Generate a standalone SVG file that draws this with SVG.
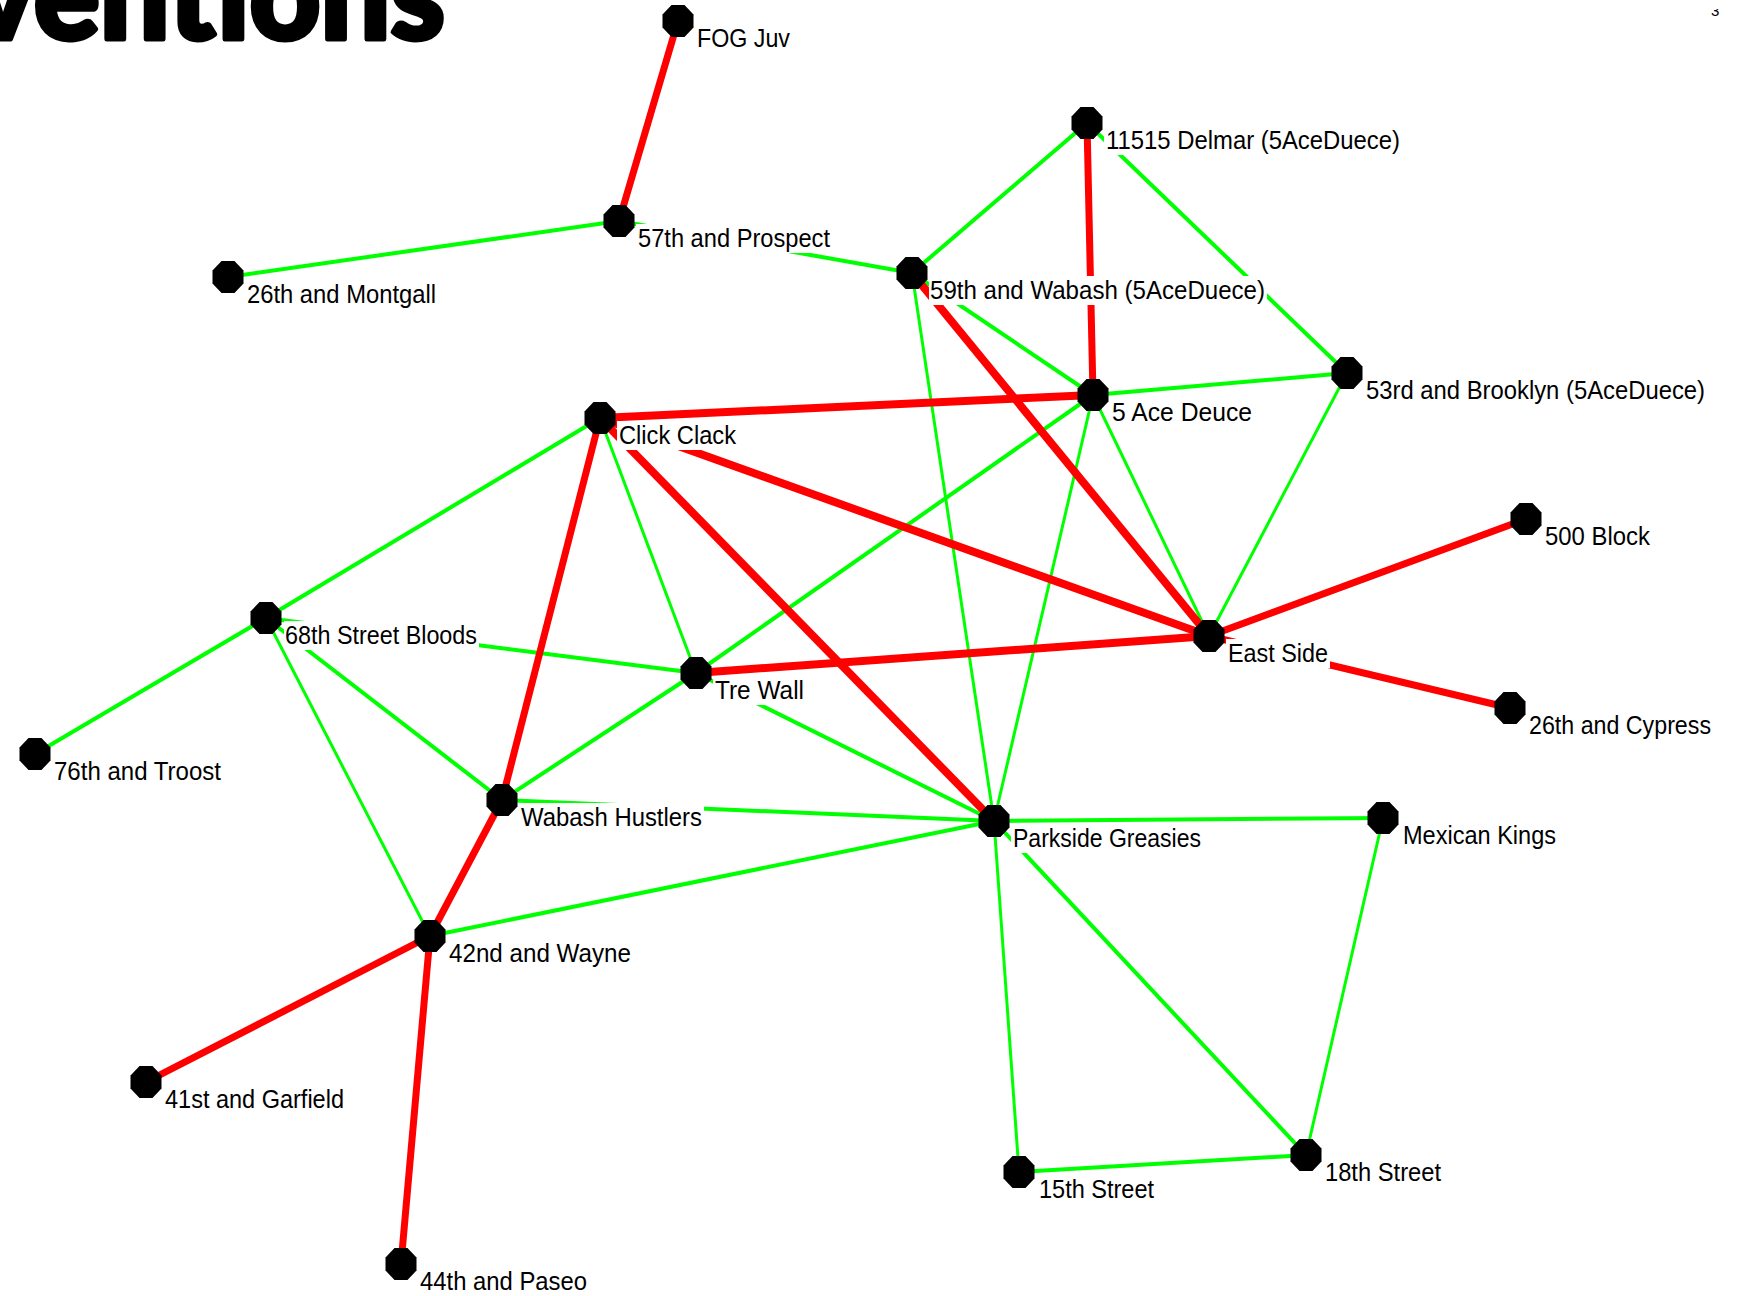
<svg xmlns="http://www.w3.org/2000/svg" xmlns:xlink="http://www.w3.org/1999/xlink" width="1739" height="1296" viewBox="0 0 1739 1296">
<style>
.g{stroke:#00ff00;stroke-width:4;fill:none}
.gt{stroke:#00ff00;stroke-width:3;fill:none}
.r{stroke:#ff0000;stroke-width:7;fill:none}
.rb{stroke:#ff0000;stroke-width:8;fill:none}
.bx{fill:#ffffff}
.t{font-family:"Liberation Sans",Arial,sans-serif;font-size:25px;fill:#000000}
.title{font-family:Lato,"Liberation Sans",sans-serif;font-weight:900;font-size:126px;fill:#000000;stroke:#000000;stroke-width:5;stroke-linejoin:round}
</style>
<defs>
<polygon id="oct" points="-6.5,-16 6.5,-16 15.5,-6.5 15.5,6.5 6.5,16 -6.5,16 -15.5,6.5 -15.5,-6.5" fill="#000000"/>
<clipPath id="numclip"><rect x="1700" y="9" width="39" height="20"/></clipPath>
</defs>
<rect width="1739" height="1296" fill="#ffffff"/>
<text class="title" x="-30" y="39" textLength="475" lengthAdjust="spacingAndGlyphs">ventions</text>
<text x="1711" y="16" clip-path="url(#numclip)" font-family="Liberation Sans, sans-serif" font-size="15" fill="#000">3</text>
<g id="connectors">
<line class="g" x1="228" y1="277" x2="619" y2="221"/>
<line class="g" x1="619" y1="221" x2="912" y2="273"/>
<line class="g" x1="1087" y1="123" x2="912" y2="273"/>
<line class="g" x1="1087" y1="123" x2="1347" y2="373"/>
<line class="g" x1="912" y1="273" x2="1093" y2="395"/>
<line class="g" x1="1093" y1="395" x2="1347" y2="373"/>
<line class="g" x1="1093" y1="395" x2="696" y2="673"/>
<line class="g" x1="600" y1="418" x2="266" y2="618"/>
<line class="g" x1="266" y1="618" x2="35" y2="754"/>
<line class="g" x1="266" y1="618" x2="696" y2="673"/>
<line class="g" x1="266" y1="618" x2="502" y2="800"/>
<line class="g" x1="696" y1="673" x2="502" y2="800"/>
<line class="g" x1="696" y1="673" x2="994" y2="821"/>
<line class="g" x1="502" y1="800" x2="994" y2="821"/>
<line class="g" x1="430" y1="936" x2="994" y2="821"/>
<line class="g" x1="994" y1="821" x2="1383" y2="818"/>
<line class="g" x1="1019" y1="1172" x2="1306" y2="1155"/>
<line class="g" x1="994" y1="821" x2="1306" y2="1155"/>
<line class="gt" x1="912" y1="273" x2="994" y2="821"/>
<line class="gt" x1="1093" y1="395" x2="1209" y2="636"/>
<line class="gt" x1="1093" y1="395" x2="994" y2="821"/>
<line class="gt" x1="1347" y1="373" x2="1209" y2="636"/>
<line class="gt" x1="600" y1="418" x2="696" y2="673"/>
<line class="gt" x1="266" y1="618" x2="430" y2="936"/>
<line class="gt" x1="994" y1="821" x2="1019" y2="1172"/>
<line class="gt" x1="1383" y1="818" x2="1306" y2="1155"/>
<line class="r" x1="678" y1="21" x2="619" y2="221"/>
<line class="r" x1="1087" y1="123" x2="1093" y2="395"/>
<line class="rb" x1="912" y1="273" x2="1209" y2="636"/>
<line class="rb" x1="600" y1="418" x2="1093" y2="395"/>
<line class="rb" x1="600" y1="418" x2="1209" y2="636"/>
<line class="rb" x1="600" y1="418" x2="994" y2="821"/>
<line class="r" x1="600" y1="418" x2="502" y2="800"/>
<line class="rb" x1="696" y1="673" x2="1209" y2="636"/>
<line class="r" x1="1209" y1="636" x2="1526" y2="519"/>
<line class="r" x1="1209" y1="636" x2="1510" y2="708"/>
<line class="r" x1="502" y1="800" x2="430" y2="936"/>
<line class="r" x1="430" y1="936" x2="146" y2="1082"/>
<line class="r" x1="430" y1="936" x2="401" y2="1264"/>
</g>
<g id="n-fog"><rect class="bx" x="695" y="24" width="97" height="29"/><use xlink:href="#oct" x="678" y="21"/><text class="t" x="697" y="47" textLength="93" lengthAdjust="spacingAndGlyphs">FOG Juv</text></g>
<g id="n-57th"><rect class="bx" x="636" y="224" width="196" height="29"/><use xlink:href="#oct" x="619" y="221"/><text class="t" x="638" y="247" textLength="192" lengthAdjust="spacingAndGlyphs">57th and Prospect</text></g>
<g id="n-26thm"><rect class="bx" x="245" y="280" width="193" height="29"/><use xlink:href="#oct" x="228" y="277"/><text class="t" x="247" y="303" textLength="189" lengthAdjust="spacingAndGlyphs">26th and Montgall</text></g>
<g id="n-11515"><rect class="bx" x="1104" y="126" width="298" height="29"/><use xlink:href="#oct" x="1087" y="123"/><text class="t" x="1106" y="149" textLength="294" lengthAdjust="spacingAndGlyphs">11515 Delmar (5AceDuece)</text></g>
<g id="n-59th"><rect class="bx" x="929" y="276" width="338" height="29"/><use xlink:href="#oct" x="912" y="273"/><text class="t" x="930" y="299" textLength="335" lengthAdjust="spacingAndGlyphs">59th and Wabash (5AceDuece)</text></g>
<g id="n-5ace"><rect class="bx" x="1111" y="398" width="143" height="29"/><use xlink:href="#oct" x="1093" y="395"/><text class="t" x="1112" y="421" textLength="140" lengthAdjust="spacingAndGlyphs">5 Ace Deuce</text></g>
<g id="n-53rd"><rect class="bx" x="1364" y="376" width="343" height="29"/><use xlink:href="#oct" x="1347" y="373"/><text class="t" x="1366" y="399" textLength="339" lengthAdjust="spacingAndGlyphs">53rd and Brooklyn (5AceDuece)</text></g>
<g id="n-click"><rect class="bx" x="617" y="421" width="121" height="29"/><use xlink:href="#oct" x="600" y="418"/><text class="t" x="619" y="444" textLength="117" lengthAdjust="spacingAndGlyphs">Click Clack</text></g>
<g id="n-500"><rect class="bx" x="1543" y="522" width="109" height="29"/><use xlink:href="#oct" x="1526" y="519"/><text class="t" x="1545" y="545" textLength="105" lengthAdjust="spacingAndGlyphs">500 Block</text></g>
<g id="n-68th"><rect class="bx" x="284" y="621" width="195" height="29"/><use xlink:href="#oct" x="266" y="618"/><text class="t" x="285" y="644" textLength="192" lengthAdjust="spacingAndGlyphs">68th Street Bloods</text></g>
<g id="n-east"><rect class="bx" x="1226" y="639" width="104" height="29"/><use xlink:href="#oct" x="1209" y="636"/><text class="t" x="1228" y="662" textLength="100" lengthAdjust="spacingAndGlyphs">East Side</text></g>
<g id="n-tre"><rect class="bx" x="713" y="676" width="93" height="29"/><use xlink:href="#oct" x="696" y="673"/><text class="t" x="715" y="699" textLength="89" lengthAdjust="spacingAndGlyphs">Tre Wall</text></g>
<g id="n-26thc"><rect class="bx" x="1527" y="711" width="186" height="29"/><use xlink:href="#oct" x="1510" y="708"/><text class="t" x="1529" y="734" textLength="182" lengthAdjust="spacingAndGlyphs">26th and Cypress</text></g>
<g id="n-76th"><rect class="bx" x="52" y="757" width="171" height="29"/><use xlink:href="#oct" x="35" y="754"/><text class="t" x="54" y="780" textLength="167" lengthAdjust="spacingAndGlyphs">76th and Troost</text></g>
<g id="n-wabash"><rect class="bx" x="519" y="803" width="185" height="29"/><use xlink:href="#oct" x="502" y="800"/><text class="t" x="521" y="826" textLength="181" lengthAdjust="spacingAndGlyphs">Wabash Hustlers</text></g>
<g id="n-parkside"><rect class="bx" x="1011" y="824" width="192" height="29"/><use xlink:href="#oct" x="994" y="821"/><text class="t" x="1013" y="847" textLength="188" lengthAdjust="spacingAndGlyphs">Parkside Greasies</text></g>
<g id="n-mexican"><rect class="bx" x="1400" y="821" width="158" height="29"/><use xlink:href="#oct" x="1383" y="818"/><text class="t" x="1403" y="844" textLength="153" lengthAdjust="spacingAndGlyphs">Mexican Kings</text></g>
<g id="n-42nd"><rect class="bx" x="447" y="939" width="186" height="29"/><use xlink:href="#oct" x="430" y="936"/><text class="t" x="449" y="962" textLength="182" lengthAdjust="spacingAndGlyphs">42nd and Wayne</text></g>
<g id="n-41st"><rect class="bx" x="163" y="1085" width="183" height="29"/><use xlink:href="#oct" x="146" y="1082"/><text class="t" x="165" y="1108" textLength="179" lengthAdjust="spacingAndGlyphs">41st and Garfield</text></g>
<g id="n-15th"><rect class="bx" x="1036" y="1175" width="120" height="29"/><use xlink:href="#oct" x="1019" y="1172"/><text class="t" x="1039" y="1198" textLength="115" lengthAdjust="spacingAndGlyphs">15th Street</text></g>
<g id="n-18th"><rect class="bx" x="1323" y="1158" width="120" height="29"/><use xlink:href="#oct" x="1306" y="1155"/><text class="t" x="1325" y="1181" textLength="116" lengthAdjust="spacingAndGlyphs">18th Street</text></g>
<g id="n-44th"><rect class="bx" x="418" y="1267" width="171" height="29"/><use xlink:href="#oct" x="401" y="1264"/><text class="t" x="420" y="1290" textLength="167" lengthAdjust="spacingAndGlyphs">44th and Paseo</text></g>
</svg>
